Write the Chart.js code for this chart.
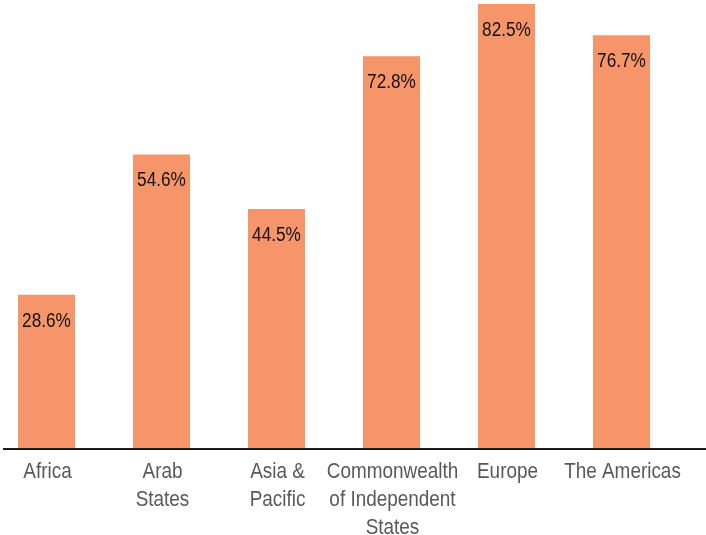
<!DOCTYPE html>
<html>
<head>
<meta charset="utf-8">
<script src="https://cdn.jsdelivr.net/npm/chart.js@4/dist/chart.umd.min.js"></script>
<style>
  html, body { margin: 0; padding: 0; background: #fff; overflow: hidden; }
  #wrap { position: absolute; left: -11px; top: 0; width: 717px; height: 535px; }
</style>
</head>
<body>
<div id="wrap"><canvas id="chart"></canvas></div>
<script>
const regions = [
  "Africa",
  ["Arab", "States"],
  ["Asia &", "Pacific"],
  ["Commonwealth", "of Independent", "States"],
  "Europe",
  "The Americas"
];
const shares = [28.6, 54.6, 44.5, 72.8, 82.5, 76.7];

const FONT = "'Liberation Sans', Arial, sans-serif";
const SQUEEZE = 0.86; // the original uses a narrow face

function narrowText(ctx, text, x, y) {
  ctx.save();
  ctx.translate(x, y);
  ctx.scale(SQUEEZE, 1);
  ctx.fillText(text, 0, 0);
  ctx.restore();
}

// black baseline across the whole width
const baseline = {
  id: "baseline",
  afterDatasetsDraw(chart) {
    const ctx = chart.ctx;
    const y = chart.scales.y.getPixelForValue(0);
    ctx.save();
    ctx.strokeStyle = "#1a1a1a";
    ctx.lineWidth = 2;
    ctx.beginPath();
    ctx.moveTo(14, y);
    ctx.lineTo(chart.width, y);
    ctx.stroke();
    ctx.restore();
  }
};

// value labels inside bar tops + category labels under the axis
const textLabels = {
  id: "textLabels",
  afterDatasetsDraw(chart) {
    const ctx = chart.ctx;
    const meta = chart.getDatasetMeta(0);
    const xs = chart.scales.x;
    const y0 = chart.scales.y.getPixelForValue(0);
    ctx.save();
    ctx.textAlign = "center";
    ctx.textBaseline = "alphabetic";

    ctx.font = "20px " + FONT;
    ctx.fillStyle = "#111";
    meta.data.forEach((bar, i) => {
      narrowText(ctx, shares[i].toFixed(1) + "%", bar.x, bar.y + 32);
    });

    ctx.font = "22px " + FONT;
    ctx.fillStyle = "#595959";
    regions.forEach((label, i) => {
      const lines = Array.isArray(label) ? label : [label];
      const x = xs.getPixelForTick(i) + 1;
      lines.forEach((line, j) => {
        narrowText(ctx, line, x, y0 + 29 + j * 28);
      });
    });
    ctx.restore();
  }
};

new Chart(document.getElementById("chart"), {
  type: "bar",
  data: {
    labels: regions,
    datasets: [
      {
        data: shares,
        backgroundColor: "#F7956A",
        barPercentage: 1,
        categoryPercentage: 0.496
      }
    ]
  },
  options: {
    responsive: true,
    maintainAspectRatio: false,
    animation: false,
    layout: { padding: { top: 4, right: 27, left: 0, bottom: 0 } },
    plugins: {
      legend: { display: false },
      tooltip: { enabled: false }
    },
    scales: {
      x: {
        grid: { display: false },
        border: { display: false },
        afterFit: (s) => { s.height = 86; },
        ticks: { display: false }
      },
      y: {
        display: false,
        min: 0,
        max: 82.5
      }
    }
  },
  plugins: [baseline, textLabels]
});
</script>
</body>
</html>
